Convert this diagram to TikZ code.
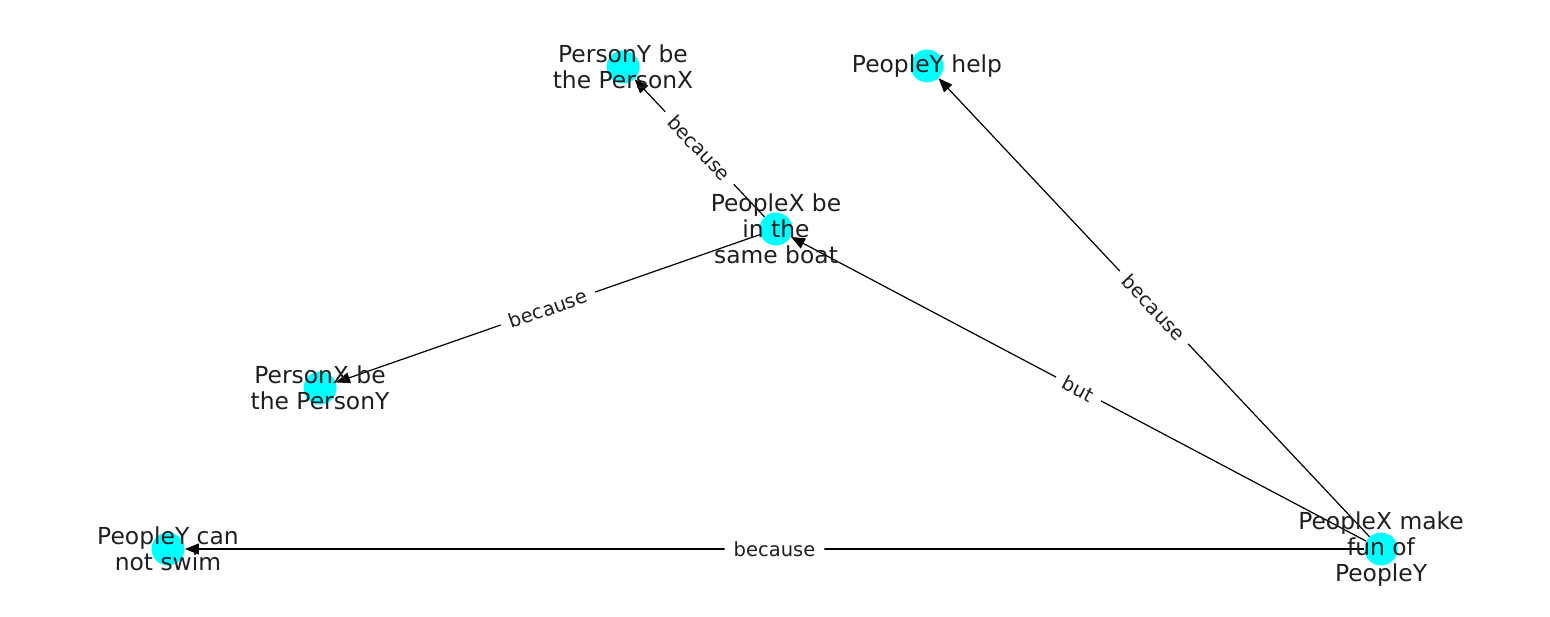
\documentclass[tikz,border=0pt]{standalone}
\usepackage{fontspec}
\setmainfont{DejaVu Sans}
\usetikzlibrary{arrows.meta}
\definecolor{aqua}{RGB}{0,255,255}

\begin{document}
\begin{tikzpicture}[x=0.5pt, y=0.5pt, >={Triangle[length=7pt, width=5.5pt]},
  dot/.style={circle, fill=aqua, minimum size=16.5pt, inner sep=0pt},
  txt/.style={align=center, inner sep=0pt, text=black!88, font=\fontsize{11.7}{13}\selectfont},
  rel/.style={midway, sloped, fill=white, rounded corners=2pt, inner xsep=4.5pt,
              inner ysep=2pt, text=black!88, font=\fontsize{9.75}{11}\selectfont},
  link/.style={->, line width=0.6pt}]

  \useasboundingbox (0, 0) rectangle (1550, 616);

  \node[dot] (pyx)  at (623, 549)  {};
  \node[dot] (help) at (927, 550)  {};
  \node[dot] (boat) at (776, 387)  {};
  \node[dot] (pxy)  at (320, 228)  {};
  \node[dot] (swim) at (168, 67)   {};
  \node[dot] (fun)  at (1381, 67)  {};

  \draw[link] (boat) -- node[rel] {because} (pyx);
  \draw[link] (boat) -- node[rel] {because} (pxy);
  \draw[link] (fun)  -- node[rel] {because} (help);
  \draw[link] (fun)  -- node[rel] {but}     (boat);
  \draw[link] (fun)  -- node[rel] {because} (swim);

  \node[txt] (pyx-t)  at (pyx)  {PersonY be\\the PersonX};
  \node[txt] (help-t) at (help) {PeopleY help};
  \node[txt] (boat-t) at (boat) {PeopleX be\\in the\\same boat};
  \node[txt] (pxy-t)  at (pxy)  {PersonX be\\the PersonY};
  \node[txt] (swim-t) at (swim) {PeopleY can\\not swim};
  \node[txt] (fun-t)  at (fun)  {PeopleX make\\fun of\\PeopleY};

\end{tikzpicture}
\end{document}
